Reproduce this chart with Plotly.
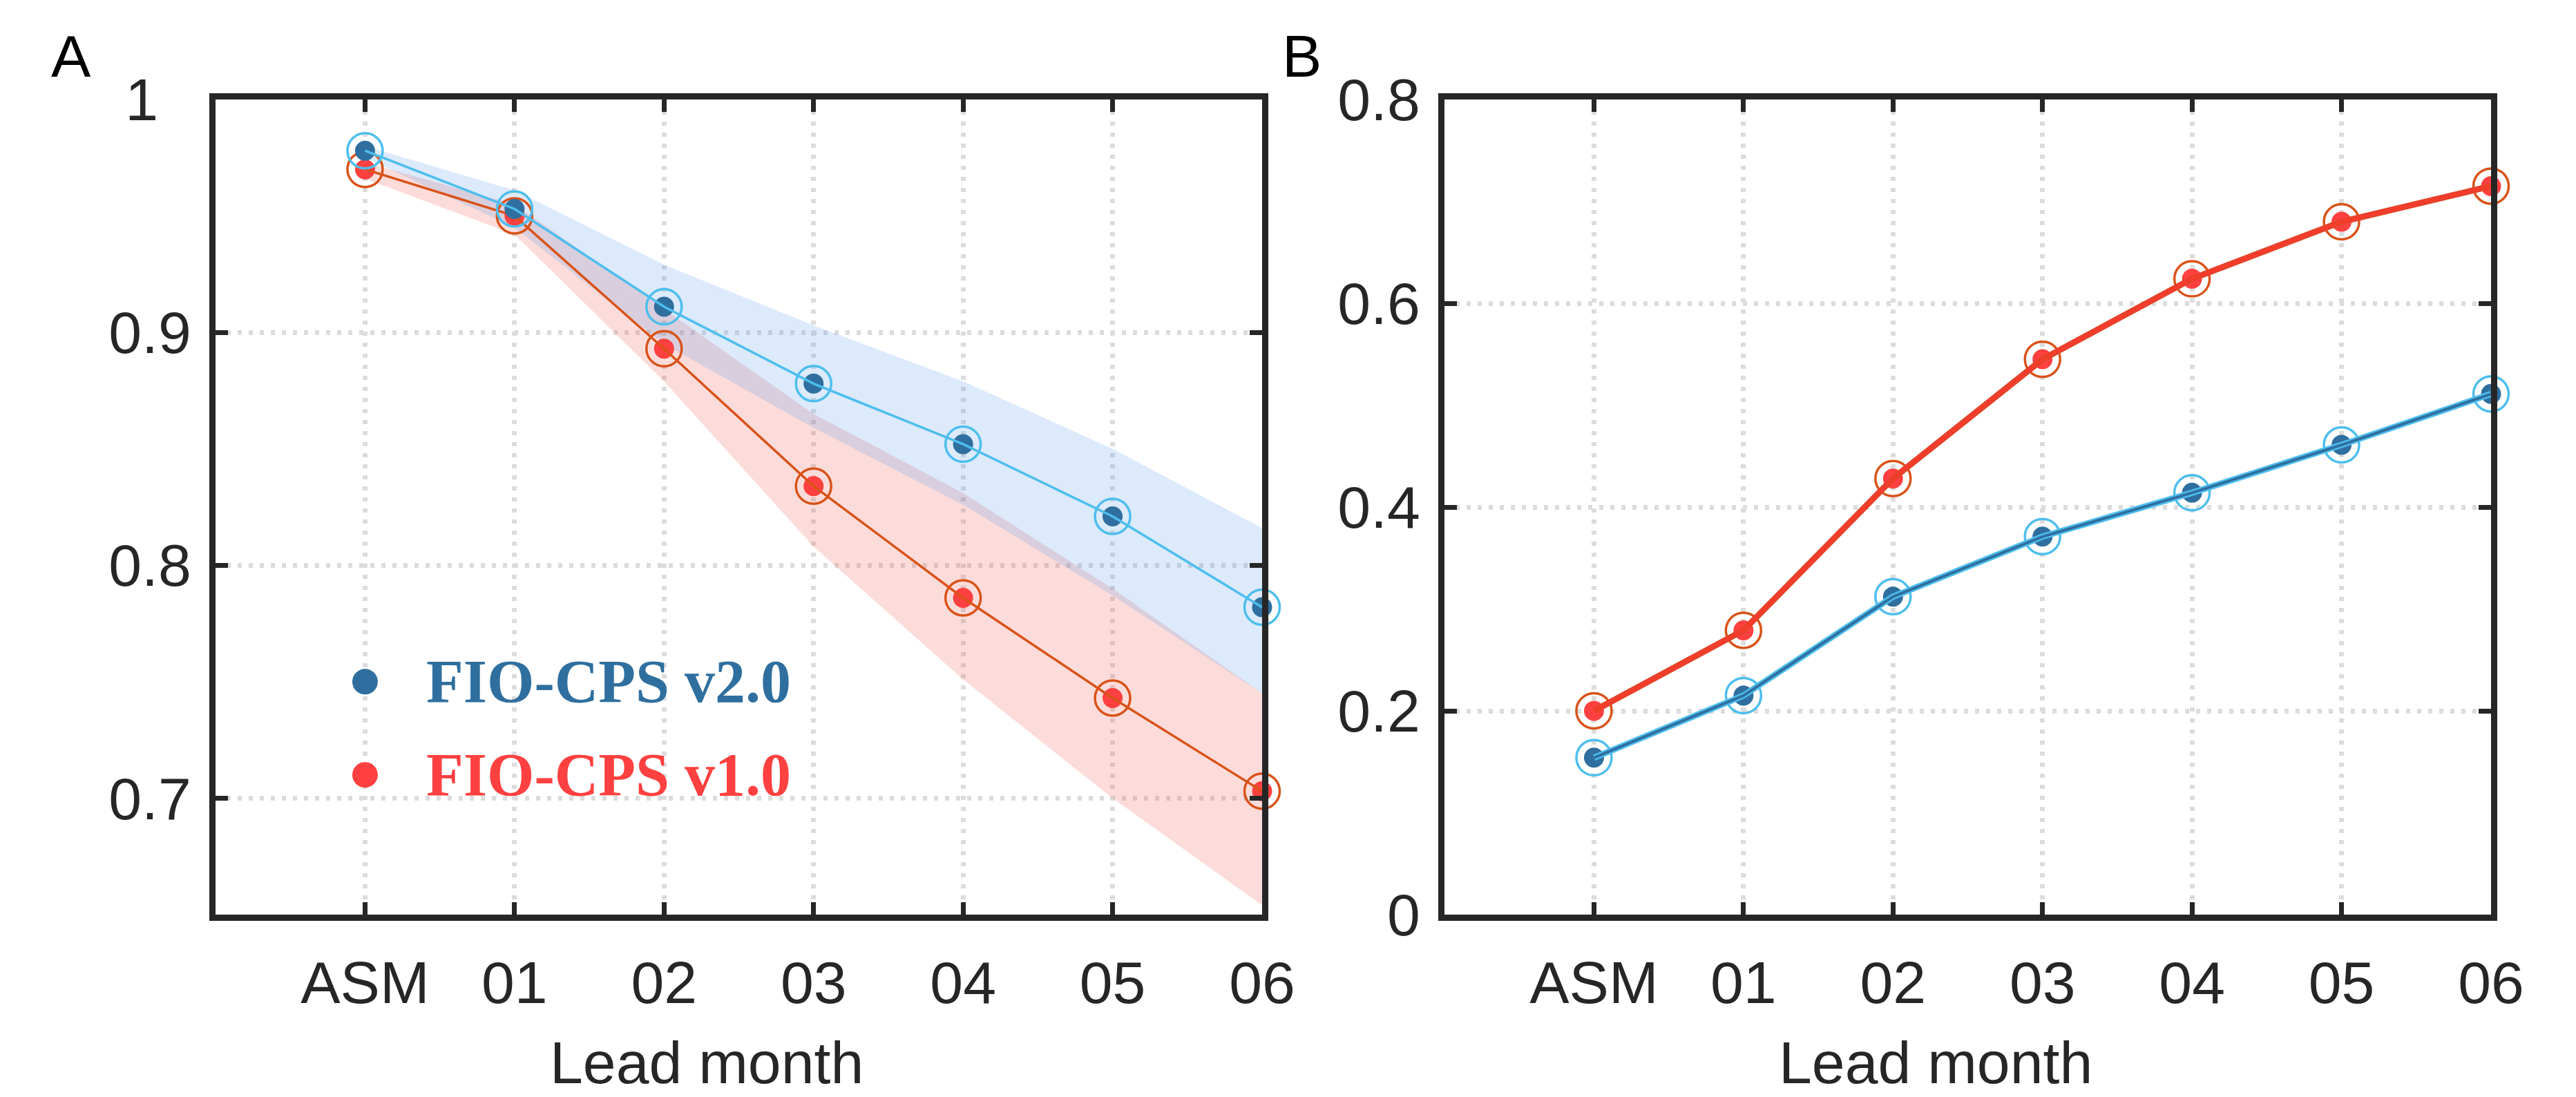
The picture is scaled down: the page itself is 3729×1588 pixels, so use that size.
import plotly.graph_objects as go

# ---------------- data ----------------
lead_labels = ["ASM", "01", "02", "03", "04", "05", "06"]
lead_pos = [0, 1, 2, 3, 4, 5, 6]

# Panel A (correlation skill)
a_v2 = [0.978, 0.953, 0.911, 0.878, 0.852, 0.821, 0.782]
a_v1 = [0.970, 0.950, 0.893, 0.834, 0.786, 0.743, 0.703]
a_v2_upper = [0.980, 0.961, 0.929, 0.903, 0.879, 0.850, 0.816]
a_v2_lower = [0.975, 0.945, 0.895, 0.859, 0.826, 0.787, 0.745]
a_v1_upper = [0.973, 0.955, 0.910, 0.865, 0.831, 0.790, 0.745]
a_v1_lower = [0.966, 0.942, 0.879, 0.808, 0.751, 0.700, 0.654]

# Panel B (RMSE)
b_v2 = [0.154, 0.215, 0.312, 0.371, 0.414, 0.461, 0.511]
b_v1 = [0.200, 0.279, 0.428, 0.545, 0.624, 0.680, 0.715]

a_yticks = [0.7, 0.8, 0.9, 1.0]
a_yticklabels = ["0.7", "0.8", "0.9", "1&nbsp;&nbsp;"]
b_yticks = [0, 0.2, 0.4, 0.6, 0.8]
b_yticklabels = ["0", "0.2", "0.4", "0.6", "0.8"]

legend_names = ["FIO-CPS v2.0", "FIO-CPS v1.0"]
legend_y = [0.75, 0.71]

# ---------------- styles ----------------
W, H = 3729, 1588
BLUE_DOT = "#2f6f9f"
BLUE_RING = "#4DBEEE"
RED_DOT = "#ff4040"
RED_RING = "#d95319"
RED_B_OUT = "#e2452a"
RED_B_IN = "#f43c2c"
AXC = "#262626"
TICKFONT = dict(family="Liberation Sans, Arial, sans-serif", size=86, color=AXC)

fig = go.Figure()


def band(xa, ya, upper, lower, color):
    fig.add_trace(go.Scatter(
        x=lead_pos + lead_pos[::-1], y=upper + lower[::-1],
        fill="toself", fillcolor=color, line=dict(width=0),
        mode="lines", hoverinfo="skip", showlegend=False,
        xaxis=xa, yaxis=ya))


def series(xa, ya, vals, dot_c, ring_c, line_specs):
    fig.add_trace(go.Scatter(
        x=lead_pos, y=vals, mode="markers", cliponaxis=False, showlegend=False,
        marker=dict(size=29, color=dot_c, line=dict(width=0)),
        xaxis=xa, yaxis=ya))
    fig.add_trace(go.Scatter(
        x=lead_pos, y=vals, mode="markers", cliponaxis=False, showlegend=False,
        marker=dict(size=51, symbol="circle-open", color=ring_c,
                    line=dict(width=3.5, color=ring_c)),
        xaxis=xa, yaxis=ya))
    for c, w in line_specs:
        fig.add_trace(go.Scatter(
            x=lead_pos, y=vals, mode="lines", cliponaxis=False, showlegend=False,
            line=dict(color=c, width=w), xaxis=xa, yaxis=ya))


# Panel A
band("x", "y", a_v1_upper, a_v1_lower, "rgba(240,80,70,0.2)")
band("x", "y", a_v2_upper, a_v2_lower, "rgba(80,150,235,0.2)")
series("x", "y", a_v1, RED_DOT, RED_RING, [(RED_RING, 3.5)])
series("x", "y", a_v2, BLUE_DOT, BLUE_RING, [(BLUE_RING, 3.5)])

# Panel B
series("x2", "y2", b_v1, RED_DOT, RED_RING, [(RED_B_OUT, 9), (RED_B_IN, 5)])
series("x2", "y2", b_v2, BLUE_DOT, BLUE_RING, [(BLUE_RING, 9), (BLUE_DOT, 4)])


def xaxis(domain, anchor):
    return dict(domain=domain, anchor=anchor, range=[-1, 6], automargin=False,
                tickmode="array", tickvals=lead_pos, ticktext=lead_labels,
                ticks="inside", ticklen=18, tickwidth=7, tickcolor=AXC,
                showline=True, linewidth=9, linecolor=AXC, mirror="ticks",
                showgrid=True, gridcolor="#dcdcdc", gridwidth=7, griddash="6px,10px",
                zeroline=False, tickfont=TICKFONT, ticklabelstandoff=16)


def yaxis(domain, anchor, rng, tv, tt):
    return dict(domain=domain, anchor=anchor, range=rng, automargin=False,
                tickmode="array", tickvals=tv, ticktext=tt,
                ticks="inside", ticklen=18, tickwidth=7, tickcolor=AXC,
                showline=True, linewidth=9, linecolor=AXC, mirror="ticks",
                showgrid=True, gridcolor="#dcdcdc", gridwidth=7, griddash="6px,10px",
                zeroline=False, tickfont=TICKFONT, ticklabelstandoff=9)


ydom = [1 - 1324 / H, 1 - 144 / H]
fig.update_layout(
    template="none",
    width=W, height=H, margin=dict(l=0, r=0, t=0, b=0, pad=0, autoexpand=False),
    paper_bgcolor="white", plot_bgcolor="white", showlegend=False,
    xaxis=xaxis([312 / W, 1827 / W], "y"),
    yaxis=yaxis(ydom, "x", [0.65, 1.0], a_yticks, a_yticklabels),
    xaxis2=xaxis([2091 / W, 3606 / W], "y2"),
    yaxis2=yaxis(ydom, "x2", [0, 0.8], b_yticks, b_yticklabels),
)

# Legend (panel A)
for name, yv, dc in zip(legend_names, legend_y, [BLUE_DOT, RED_DOT]):
    fig.add_shape(type="circle", xref="x", yref="y",
                  xsizemode="pixel", ysizemode="pixel",
                  xanchor=0, yanchor=yv, x0=-18.5, x1=18.5, y0=-18.5, y1=18.5,
                  fillcolor=dc, line=dict(width=0))
    fig.add_annotation(x=0.40, y=yv, xref="x", yref="y", xanchor="left", yanchor="middle",
                       text="<b>%s</b>" % name, showarrow=False,
                       font=dict(family="Liberation Serif, Times New Roman, serif",
                                 size=88, color=dc))

# Panel letters and axis titles
for txt, xc in [("A", 103), ("B", 1884)]:
    fig.add_annotation(x=xc / W, y=1 - 80.5 / H, xref="paper", yref="paper",
                       xanchor="center", yanchor="middle", text=txt, showarrow=False,
                       font=dict(family="Liberation Sans, Arial, sans-serif", size=86, color="black"))
for xc in [1023, 2802]:
    fig.add_annotation(x=xc / W, y=1 - 1538 / H, xref="paper", yref="paper",
                       xanchor="center", yanchor="middle", text="Lead month", showarrow=False,
                       font=dict(family="Liberation Sans, Arial, sans-serif", size=86, color=AXC))

fig.write_html("out.html", config={"displayModeBar": False},
               post_script="document.body.style.margin='0';document.body.style.overflow='hidden';")
